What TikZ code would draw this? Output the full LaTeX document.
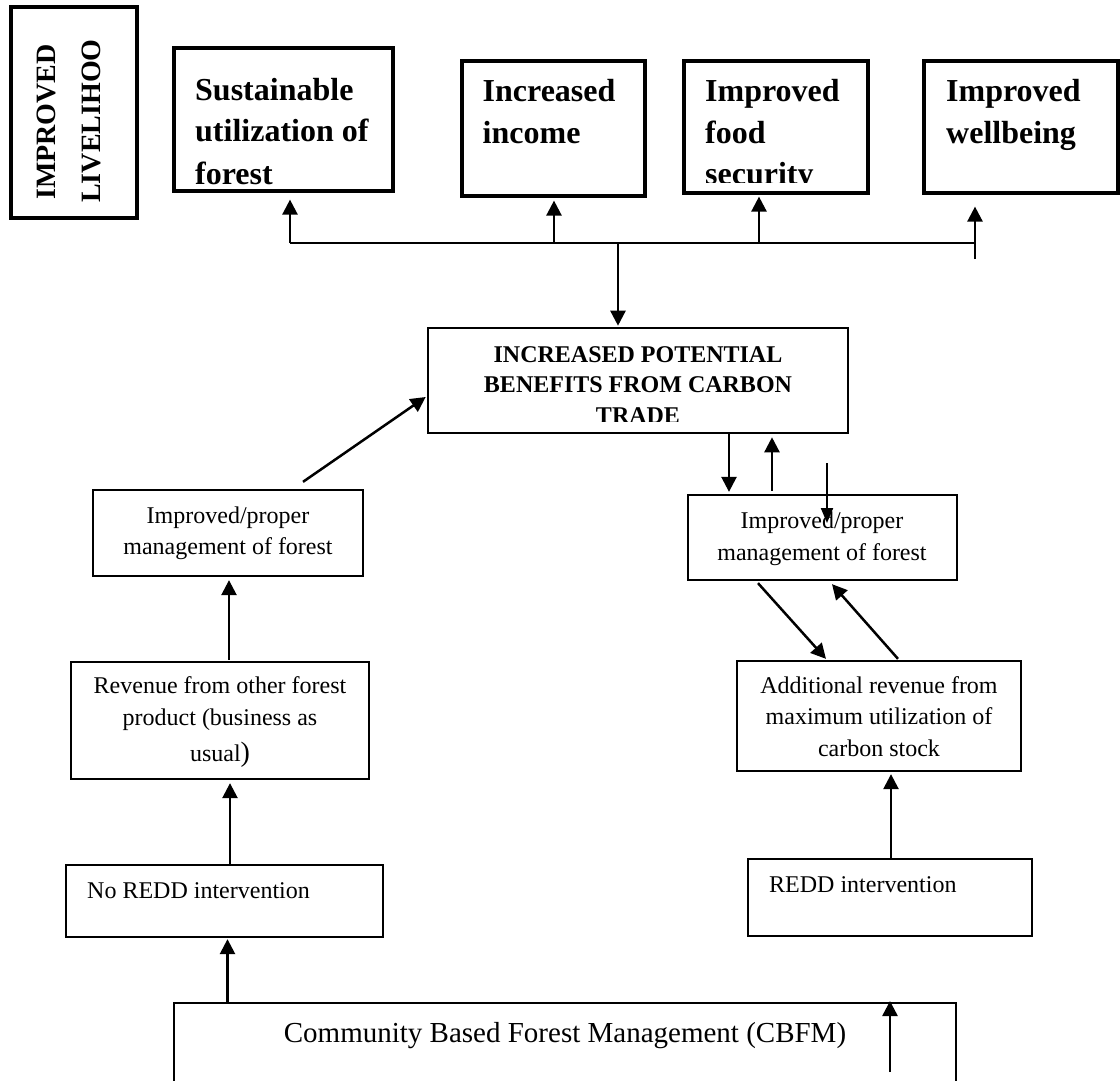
\documentclass[tikz,border=0pt]{standalone}
\usepackage{fontspec}
\setmainfont{Liberation Serif}
\usetikzlibrary{arrows.meta}
\begin{document}
\begin{tikzpicture}[x=1pt,y=-1pt,
  box/.style={draw, line width=2.3pt, inner sep=0pt},
  goal/.style={box, line width=3.2pt},
  hub/.style={box, line width=2.6pt},
  arr/.style={line width=2.5pt, -{Triangle[length=15pt,width=15pt]}},
  thinarr/.style={line width=2pt, -{Triangle[length=15pt,width=12pt]}},
  link/.style={line width=2.3pt},
  bigbf/.style={font=\fontsize{32}{38}\selectfont\bfseries, inner sep=0pt, anchor=base west},
  vertbf/.style={font=\fontsize{28}{34}\selectfont\bfseries, inner sep=0pt, anchor=base, rotate=90},
  capbf/.style={font=\fontsize{24}{29}\selectfont\bfseries, inner sep=0pt, anchor=base},
  plain/.style={font=\fontsize{24}{29}\selectfont, inner sep=0pt, anchor=base},
  plainl/.style={plain, anchor=base west},
]
\useasboundingbox (0,0) rectangle (1120,1081);
\clip (0,0) rectangle (1120,1081);

% ---- boxes ----
\node[goal, minimum width=126pt, minimum height=211pt] (liv)  at (74,112.5) {};
\node[goal, minimum width=219pt, minimum height=143pt] (sust) at (283.5,119.5) {};
\node[goal, minimum width=183pt, minimum height=135pt] (inc)  at (553.5,128.5) {};
\node[goal, minimum width=184pt, minimum height=132pt] (food) at (776,127) {};
\node[goal, minimum width=194pt, minimum height=132pt] (well) at (1021,127) {};
\node[hub, minimum width=420pt, minimum height=105pt] (carbon) at (638,380.5) {};
\node[box, minimum width=270pt, minimum height=86pt]  (mgmtL) at (228,533) {};
\node[box, minimum width=269pt, minimum height=85pt]  (mgmtR) at (822.5,537.5) {};
\node[box, minimum width=298pt, minimum height=117pt] (rev)   at (220,720.5) {};
\node[box, minimum width=284pt, minimum height=110pt] (addrev) at (879,716) {};
\node[box, minimum width=317pt, minimum height=72pt]  (noredd) at (224.5,901) {};
\node[box, minimum width=284pt, minimum height=77pt]  (redd)  at (890,897.5) {};
\node[box, minimum width=782pt, minimum height=140pt] (cbfm)  at (565,1073) {};

% ---- texts ----
\node[vertbf] (liv1) at (55,122) {IMPROVED};
\node[vertbf] (liv2) at (100,121) {LIVELIHOO};

\node[bigbf] (sust1) at (195,100) {Sustainable};
\node[bigbf] (sust2) at (195,142) {utilization of};
\node[bigbf] (sust3) at (195,184) {forest};

\node[bigbf] (inc1) at (482.5,102) {Increased};
\node[bigbf] (inc2) at (482.5,143) {income};

\node[bigbf] (food1) at (705,102) {Improved};
\node[bigbf] (food2) at (705,143) {food};
\begin{scope}
  \clip (684,61) rectangle (868,182);
  \node[bigbf] (food3) at (705,184) {security};
\end{scope}

\node[bigbf] (well1) at (946,102) {Improved};
\node[bigbf] (well2) at (946,143) {wellbeing};

\node[capbf] (carb1) at (638,362) {INCREASED POTENTIAL};
\node[capbf] (carb2) at (638,392.5) {BENEFITS FROM CARBON};
\begin{scope}
  \clip (428,328) rectangle (848,421.5);
  \node[capbf] (carb3) at (638,423.5) {TRADE};
\end{scope}

\node[plain] (ml1) at (228,523) {Improved/proper};
\node[plain] (ml2) at (228,554) {management of forest};

\node[plain] (mr1) at (822,528) {Improved/proper};
\node[plain] (mr2) at (822,560) {management of forest};

\node[plain] (rv1) at (220,693) {Revenue from other forest};
\node[plain] (rv2) at (220,725) {product (business as};
\node[plain] (rv3) at (220,761) {usual{\fontsize{28}{30}\selectfont)}};

\node[plain] (ad1) at (879,693) {Additional revenue from};
\node[plain] (ad2) at (879,724.5) {maximum utilization of};
\node[plain] (ad3) at (879,756) {carbon stock};

\node[plainl] (nr1) at (87,898) {No REDD intervention};
\node[plainl] (rd1) at (769,892) {REDD intervention};

\node[font=\fontsize{29}{35}\selectfont, inner sep=0pt, anchor=base] (cb1) at (565,1042)
  {Community Based Forest Management (CBFM)};

% ---- distribution bus to the outcomes ----
\coordinate (b1) at (290,243);
\coordinate (b2) at (554,243);
\coordinate (b3) at (759,243);
\coordinate (bc) at (618,243);
\coordinate (br) at (975,243);
\coordinate (b4) at (975,259);
\draw[link] (b1) -- (br);
\draw[arr] (b1) -- ([shift={(6.5,7)}]sust.south);
\draw[arr] (b2) -- ([shift={(0.5,3)}]inc.south);
\draw[arr] (b3) -- ([shift={(-17,2)}]food.south);
\draw[arr] (b4) -- ([shift={(-46,12)}]well.south);
\draw[arr] (bc) -- ([shift={(-20,-1)}]carbon.north);

% ---- left chain ----
\draw[arr] ([shift={(-337.5,0)}]cbfm.north) -- ([shift={(3,1)}]noredd.south);
\draw[arr] ([shift={(5.5,0)}]noredd.north) -- ([shift={(10,3)}]rev.south);
\draw[arr] ([shift={(9,-1)}]rev.north) -- ([shift={(1,3)}]mgmtL.south);
\draw[arr] ([shift={(75,-7)}]mgmtL.north) -- ([shift={(-1,16.5)}]carbon.west);

% ---- right chain ----
\draw[arr] ([shift={(91,0)}]carbon.south) -- ([shift={(-93.5,-2)}]mgmtR.north);
\draw[arr] ([shift={(-50.5,-3)}]mgmtR.north) -- ([shift={(134,3)}]carbon.south);
\coordinate (drop) at (827,463);
\coordinate (dropend) at (827,523);
\draw[thinarr] (drop) -- (dropend);
\draw[arr] ([shift={(-64.5,2)}]mgmtR.south) -- ([shift={(-53,-1)}]addrev.north);
\draw[arr] ([shift={(19,-1)}]addrev.north) -- ([shift={(9.5,3)}]mgmtR.south);
\draw[arr] ([shift={(1,0)}]redd.north) -- ([shift={(12,2)}]addrev.south);
\coordinate (cin1) at (890,1072);
\coordinate (cin2) at (890,1001);
\draw[arr] (cin1) -- (cin2);
\end{tikzpicture}
\end{document}
